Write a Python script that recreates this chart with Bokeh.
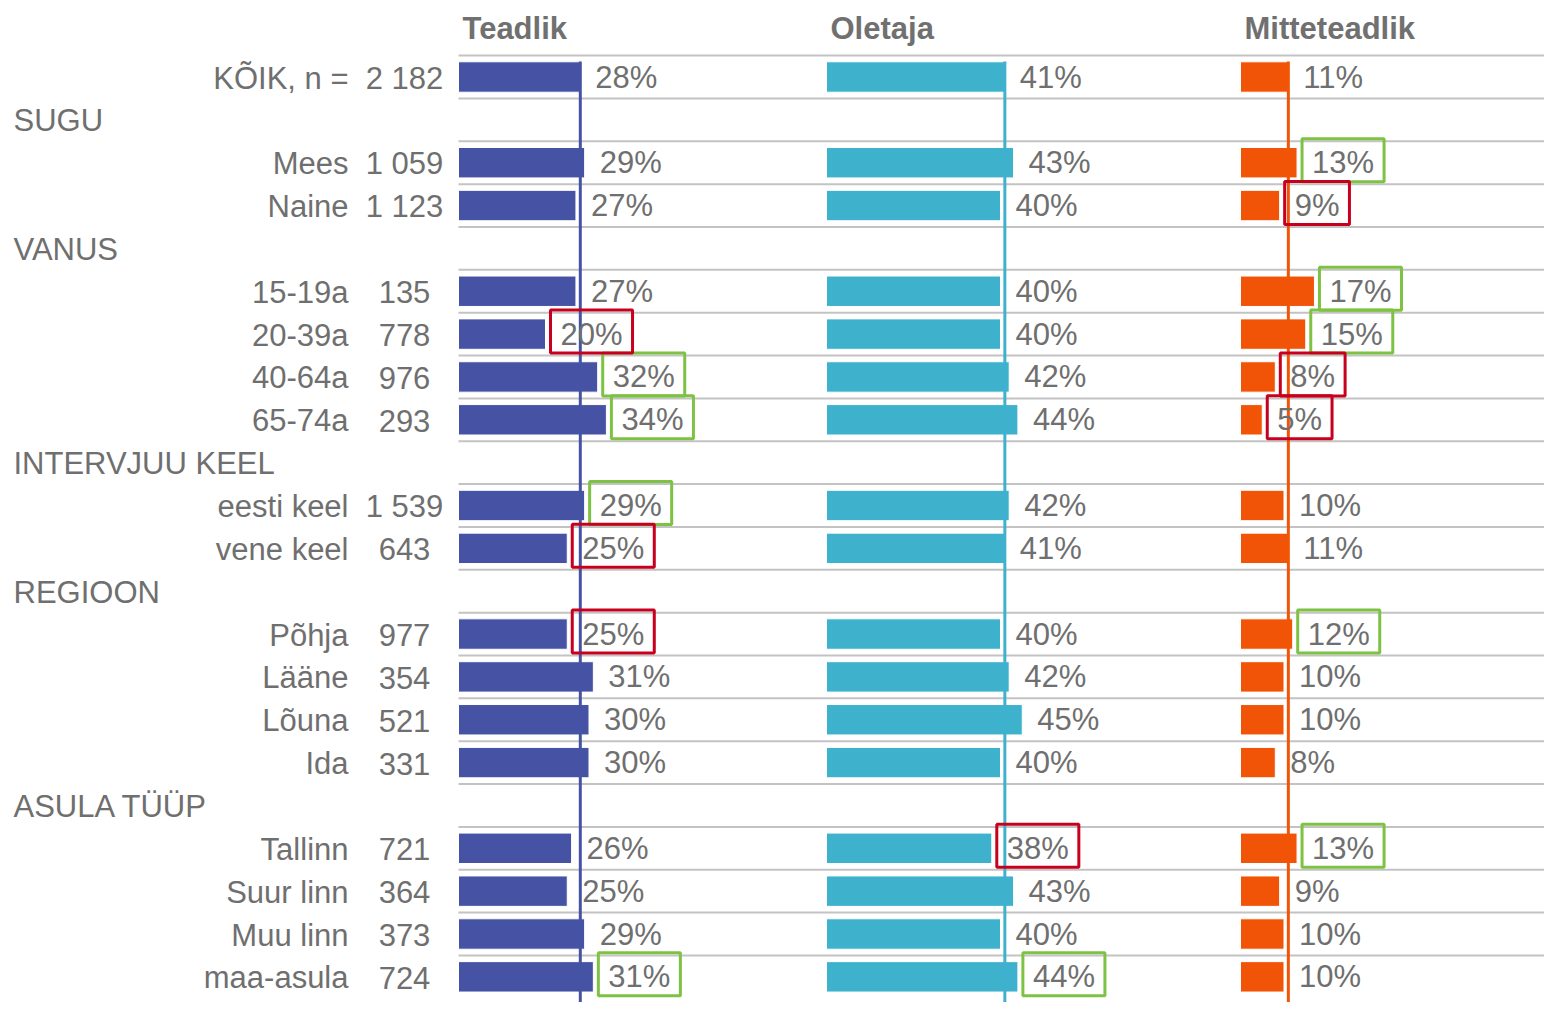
from bokeh.plotting import figure
from bokeh.models import Range1d, ColumnDataSource
from bokeh.core.properties import value
from bokeh.embed import file_html
from bokeh.resources import INLINE

# ---------------- data ----------------
series_names = ["Teadlik", "Oletaja", "Mitteteadlik"]
series_colors = ["#4653A5", "#3EB1CD", "#F25407"]

row_labels = ["KÕIK, n =", "SUGU", "Mees", "Naine", "VANUS", "15-19a", "20-39a",
              "40-64a", "65-74a", "INTERVJUU KEEL", "eesti keel", "vene keel",
              "REGIOON", "Põhja", "Lääne", "Lõuna", "Ida", "ASULA TÜÜP",
              "Tallinn", "Suur linn", "Muu linn", "maa-asula"]
is_group = [False, True, False, False, True, False, False, False, False, True,
            False, False, True, False, False, False, False, True, False, False,
            False, False]
n_labels = ["2 182", "", "1 059", "1 123", "", "135", "778", "976", "293", "",
            "1 539", "643", "", "977", "354", "521", "331", "", "721", "364",
            "373", "724"]

teadlik = [28, None, 29, 27, None, 27, 20, 32, 34, None, 29, 25, None, 25, 31,
           30, 30, None, 26, 25, 29, 31]
oletaja = [41, None, 43, 40, None, 40, 40, 42, 44, None, 42, 41, None, 40, 42,
           45, 40, None, 38, 43, 40, 44]
mitteteadlik = [11, None, 13, 9, None, 17, 15, 8, 5, None, 10, 11, None, 12, 10,
                10, 8, None, 13, 9, 10, 10]

# significance vs. total: 1 = higher (green box), -1 = lower (red box), 0 = none
sig_teadlik = [0, 0, 0, 0, 0, 0, -1, 1, 1, 0, 1, -1, 0, -1, 0, 0, 0, 0, 0, 0, 0, 1]
sig_oletaja = [0, 0, 0, 0, 0, 0, 0, 0, 0, 0, 0, 0, 0, 0, 0, 0, 0, 0, -1, 0, 0, 1]
sig_mitteteadlik = [0, 0, 1, -1, 0, 1, 1, -1, -1, 0, 0, 0, 0, 1, 0, 0, 0, 0, 1, 0, 0, 0]

series_values = [teadlik, oletaja, mitteteadlik]
series_sig = [sig_teadlik, sig_oletaja, sig_mitteteadlik]

# ---------------- layout ----------------
W, H = 1544, 1002
PX = 4.35                      # pixels per percentage point
ROW = 42.85                    # pixels per row
panel_px = [0, 368, 782]       # panel start, px from first panel
left_px = 458                  # first panel start from figure left edge
row0_px = 76.5                 # centre of first row from figure top

x_start = -left_px / PX
x_end = x_start + W / PX
y_top = -row0_px / ROW
y_bot = y_top + H / ROW

FONT = value("Liberation Sans")
TXT = "#6F6F6F"
FS = 31
GREEN = "#7DC243"
RED = "#C8001E"

p = figure(width=W, height=H, output_backend="svg", toolbar_location=None,
           x_range=Range1d(x_start, x_end), y_range=Range1d(y_bot, y_top),
           x_axis_type=None, y_axis_type=None, min_border=0,
           outline_line_color=None, background_fill_color="white")
p.xgrid.visible = False
p.ygrid.visible = False

rows = list(range(len(row_labels)))
offsets = [px / PX for px in panel_px]

# horizontal separators
sep_y = [r - 0.5 for r in rows]
p.segment(x0=[0] * len(sep_y), x1=[x_end] * len(sep_y), y0=sep_y, y1=sep_y,
          line_color="#C3C3C3", line_width=2)

# headers
p.text(x=offsets, y=[(28 - row0_px) / ROW] * 3, text=series_names, x_offset=4,
       text_font=FONT, text_font_style="bold", text_font_size="31px",
       text_color="#707070", text_baseline="middle", text_align="left")

# row labels
cat_rows = [r for r in rows if not is_group[r]]
grp_rows = [r for r in rows if is_group[r]]
p.text(x=[(348 - left_px) / PX] * len(cat_rows), y=cat_rows,
       text=[row_labels[r] for r in cat_rows], y_offset=1,
       text_font=FONT, text_font_size=f"{FS}px", text_color=TXT,
       text_baseline="middle", text_align="right")
p.text(x=[(404 - left_px) / PX] * len(cat_rows), y=cat_rows,
       text=[n_labels[r] for r in cat_rows], y_offset=1,
       text_font=FONT, text_font_size=f"{FS}px", text_color=TXT,
       text_baseline="middle", text_align="center")
p.text(x=[(13 - left_px) / PX] * len(grp_rows), y=grp_rows,
       text=[row_labels[r] for r in grp_rows], y_offset=1,
       text_font=FONT, text_font_size=f"{FS}px", text_color=TXT,
       text_baseline="middle", text_align="left")

for k in range(3):
    vals = series_values[k]
    sig = series_sig[k]
    off = offsets[k]
    rr = [r for r in rows if vals[r] is not None]
    src = ColumnDataSource(dict(
        y=rr,
        left=[off] * len(rr),
        right=[off + vals[r] for r in rr],
        lbl=[f"{vals[r]}%" for r in rr],
    ))
    p.hbar(y="y", left="left", right="right", height=0.71, source=src,
           fill_color=series_colors[k], line_color="white", line_width=1)
    # reference line at total value
    p.segment(x0=[off + vals[0]], x1=[off + vals[0]], y0=[-0.36], y1=[y_bot],
              line_color=series_colors[k], line_width=3)
    p.text(x="right", y="y", text="lbl", source=src, x_offset=15,
           text_font=FONT, text_font_size=f"{FS}px", text_color=TXT,
           text_baseline="middle", text_align="left")
    # significance boxes
    for sgn, col in ((1, GREEN), (-1, RED)):
        br = [r for r in rr if sig[r] == sgn]
        if not br:
            continue
        tws = [(len(str(vals[r])) * 0.556 + 0.889) * FS for r in br]
        p.rect(x=[off + vals[r] + (15 + tw / 2) / PX for r, tw in zip(br, tws)],
               y=[r - 0.06 for r in br],
               width=[tw + 20 for tw in tws], width_units="screen",
               height=43, height_units="screen",
               fill_color=None, line_color=col, line_width=3)

open("out.html", "w").write(file_html(p, INLINE))
